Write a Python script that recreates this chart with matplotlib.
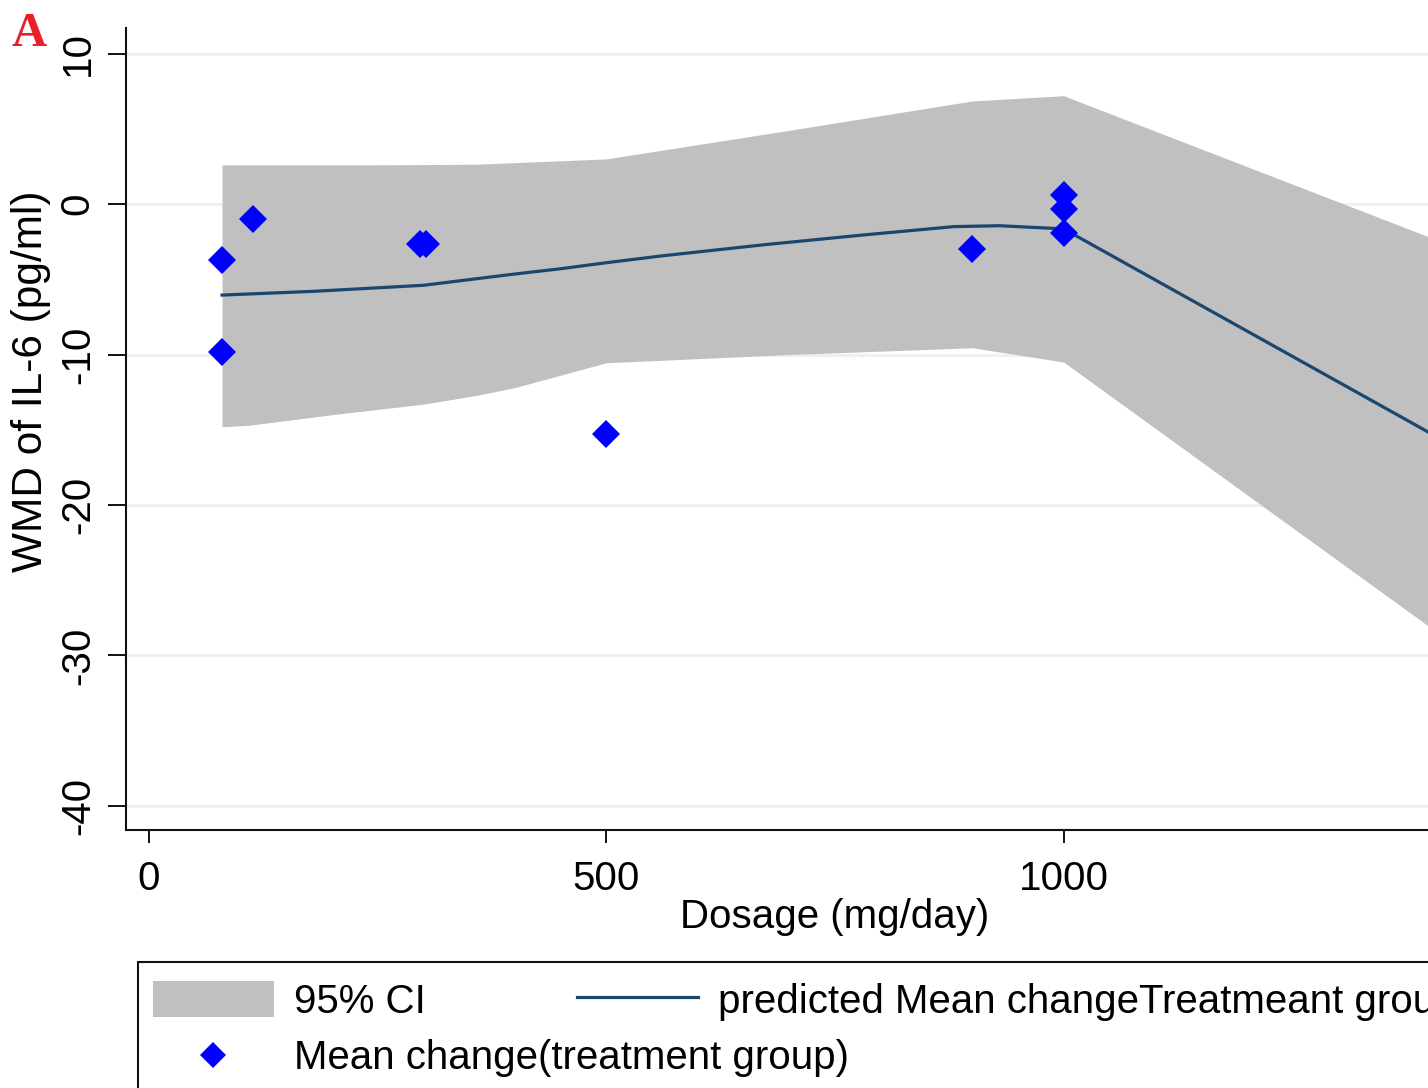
import numpy as np
import matplotlib.pyplot as plt
from matplotlib.patches import Rectangle

# observed mean change (treatment group)
dose_obs = [80, 80, 114, 296, 303, 500, 900, 1000, 1000, 1000]
wmd_obs = [-3.75, -9.85, -1.0, -2.65, -2.65, -15.3, -3.0, 0.6, -0.3, -1.9]

# predicted curve
fit_dose = [80, 180, 300, 400, 450, 500, 560, 670, 780, 880, 930, 1000, 1400]
fit_wmd = [-6.05, -5.8, -5.4, -4.65, -4.3, -3.9, -3.45, -2.72, -2.06, -1.5, -1.44, -1.65, -15.2]

# 95% CI band
ci_dose = [80, 110, 200, 300, 360, 400, 500, 700, 900, 1000, 1400]
ci_lo = [-14.8, -14.7, -14.0, -13.3, -12.7, -12.2, -10.55, -10.0, -9.55, -10.5, -28.1]
ci_hi = [2.6, 2.6, 2.6, 2.62, 2.65, 2.75, 3.0, 4.9, 6.85, 7.2, -2.2]

xticks = [0, 500, 1000]
yticks = [10, 0, -10, -20, -30, -40]

plt.rcParams['font.family'] = ['Liberation Sans', 'DejaVu Sans']
plt.rcParams['axes.unicode_minus'] = False
fs = 29

fig = plt.figure(figsize=(14.28, 10.88), dpi=100)
ax = fig.add_axes([126/1428, 258/1088, 1395/1428, 802/1088])

band = ax.fill_between(ci_dose, ci_lo, ci_hi, color='#c0c0c0', lw=0, zorder=1)
line, = ax.plot(fit_dose, fit_wmd, color='#1a476f', lw=2.3, zorder=2)
pts, = ax.plot(dose_obs, wmd_obs, 'D', color='#0000ff', markersize=14, mew=0, zorder=3)

ax.set_xlim(-25, 1500)
ax.set_ylim(-41.6, 11.7)
ax.set_xticks(xticks)
ax.set_yticks(yticks)
ax.yaxis.grid(True, color='#eaf2f3', lw=2.2)
ax.set_axisbelow(True)

for s in ['top', 'right']:
    ax.spines[s].set_visible(False)
for s in ['left', 'bottom']:
    ax.spines[s].set_linewidth(1.5)
    ax.spines[s].set_color('#111111')

ax.tick_params(axis='x', length=9.5, width=1.4, pad=12, labelsize=fs, color='#111111')
ax.tick_params(axis='y', length=13, width=1.4, pad=8, labelsize=fs, color='#111111', labelrotation=90)
for lab in ax.get_yticklabels():
    lab.set_verticalalignment('center')

ax.set_xlabel('Dosage (mg/day)', fontsize=fs)
ax.xaxis.set_label_coords(0.508, -0.085)
ax.set_ylabel('WMD of IL-6 (pg/ml)', fontsize=30.5)
ax.yaxis.set_label_coords(-0.054, 0.56)

# panel letter
fig.text(12/1428, 1 - 12/1088, 'A', color='#e8202a', fontsize=35, fontweight='bold',
         family='Liberation Serif', ha='left', va='top')

# legend frame, runs off the figure like the original
fig.add_artist(Rectangle((138/1428, -0.1), 1.0, 126/1088 + 0.1, transform=fig.transFigure,
                         fill=False, lw=1.5, ec='#111111'))
leg1 = fig.legend([band, line], ['95% CI', 'predicted Mean changeTreatmeant group'],
                  loc='center left', bbox_to_anchor=(153/1428, 87/1088), ncol=2,
                  frameon=False, borderpad=0, borderaxespad=0, handlelength=3,
                  handleheight=1.0, handletextpad=0.5, columnspacing=3.75, fontsize=fs)
pts_leg, = ax.plot([], [], 'D', color='#0000ff', markersize=13, mew=0)
leg2 = fig.legend([pts_leg], ['Mean change(treatment group)'], loc='center left',
                  bbox_to_anchor=(153/1428, 30/1088), numpoints=1, frameon=False,
                  borderpad=0, borderaxespad=0, handlelength=3, handletextpad=0.5,
                  fontsize=fs)

plt.savefig('out.png', dpi=100)
